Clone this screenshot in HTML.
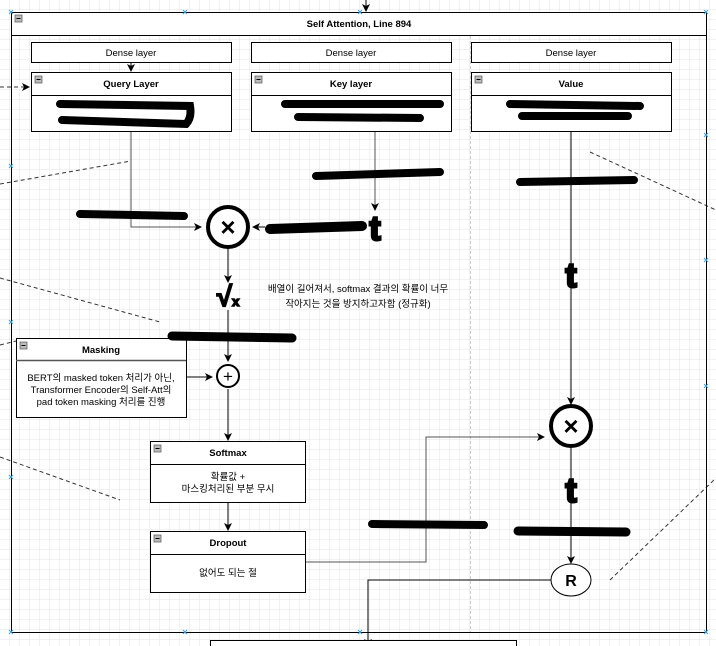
<!DOCTYPE html>
<html><head><meta charset="utf-8"><style>
body{margin:0;background:#fff}
svg{display:block}
text{font-family:"Liberation Sans","Noto Sans CJK KR",sans-serif;font-size:9.5px;fill:#000}
.b{font-weight:bold}
</style></head><body>
<svg width="716" height="646" viewBox="0 0 716 646" xmlns="http://www.w3.org/2000/svg">
<defs>
<pattern id="g" width="10" height="10" patternUnits="userSpaceOnUse"><path d="M10 0V10H0" fill="none" stroke="#e4e4e4" stroke-width="1"/></pattern>
<marker id="a" markerWidth="8" markerHeight="8" refX="7" refY="4" orient="auto" markerUnits="userSpaceOnUse"><path d="M0 0L8 4L0 8L2 4z" fill="#000"/></marker>
</defs>
<rect width="716" height="646" fill="url(#g)"/>
<g stroke="#333" stroke-dasharray="4,3" fill="none">
<line x1="0" y1="87" x2="29" y2="87" marker-end="url(#a)"/>
<line x1="0" y1="184" x2="131" y2="161"/>
<line x1="0" y1="278" x2="160" y2="322"/>
<line x1="0" y1="345" x2="16" y2="341"/>
<line x1="0" y1="457" x2="120" y2="500"/>
<line x1="590" y1="152" x2="716" y2="210"/>
<line x1="610" y1="580" x2="716" y2="478"/>
</g>
<rect x="11.5" y="12.5" width="695" height="620" fill="none" stroke="#000"/>
<rect x="11.5" y="12.5" width="695" height="23" fill="#fff" stroke="#000"/>
<rect x="15" y="15" width="7" height="7" fill="#bbb" stroke="#555" stroke-width=".7"/><line x1="16.5" y1="18.5" x2="20.5" y2="18.5" stroke="#000"/>
<text x="359" y="27" text-anchor="middle" class="b">Self Attention, Line 894</text>
<line x1="470.5" y1="36" x2="470.5" y2="632" stroke="#ccc" stroke-dasharray="3,2"/>
<line x1="366" y1="0" x2="366" y2="11" stroke="#000" marker-end="url(#a)"/>
<g fill="#fff" stroke="#000">
<rect x="31.5" y="42.5" width="200" height="20"/><rect x="251.5" y="42.5" width="200" height="20"/><rect x="471.5" y="42.5" width="200" height="20"/>
<rect x="31.5" y="72.5" width="200" height="59"/><rect x="251.5" y="72.5" width="200" height="59"/><rect x="471.5" y="72.5" width="200" height="59"/>
<line x1="31" y1="95.5" x2="231" y2="95.5"/><line x1="251" y1="95.5" x2="451" y2="95.5"/><line x1="471" y1="95.5" x2="671" y2="95.5"/>
</g>
<text x="131" y="56" text-anchor="middle">Dense layer</text>
<text x="351" y="56" text-anchor="middle">Dense layer</text>
<text x="571" y="56" text-anchor="middle">Dense layer</text>
<line x1="131" y1="62" x2="131" y2="71" stroke="#000" marker-end="url(#a)"/>
<g fill="#bbb" stroke="#555" stroke-width=".7"><rect x="35" y="76" width="7" height="7"/><rect x="255" y="76" width="7" height="7"/><rect x="475" y="76" width="7" height="7"/></g>
<g stroke="#000"><line x1="36.5" y1="79.5" x2="40.5" y2="79.5"/><line x1="256.5" y1="79.5" x2="260.5" y2="79.5"/><line x1="476.5" y1="79.5" x2="480.5" y2="79.5"/></g>
<text x="131" y="87" text-anchor="middle" class="b">Query Layer</text>
<text x="351" y="87" text-anchor="middle" class="b">Key layer</text>
<text x="571" y="87" text-anchor="middle" class="b">Value</text>
<g stroke="#000" fill="none">
<polyline points="131,132 131,227 201,227" stroke="#555" marker-end="url(#a)"/>
<line x1="375" y1="132" x2="375" y2="210" stroke="#555" marker-end="url(#a)"/>
<line x1="265" y1="227" x2="253" y2="227" marker-end="url(#a)"/>
<line x1="228" y1="248" x2="228" y2="282" marker-end="url(#a)"/>
<line x1="228" y1="310" x2="228" y2="361" marker-end="url(#a)"/>
<line x1="187" y1="377" x2="212" y2="377" marker-end="url(#a)"/>
<line x1="228" y1="389" x2="228" y2="440" marker-end="url(#a)"/>
<line x1="228" y1="502" x2="228" y2="530" marker-end="url(#a)"/>
<polyline points="305,562 426,562 426,437 544,437" stroke="#555" marker-end="url(#a)"/>
<line x1="571" y1="132" x2="571" y2="404" marker-end="url(#a)"/>
<line x1="571" y1="448" x2="571" y2="563" marker-end="url(#a)"/>
<polyline points="551,580 368,580 368,646" marker-end="url(#a)"/>
</g>
<circle cx="228" cy="227" r="20" fill="#fff" stroke="#000" stroke-width="4"/>
<text x="228" y="236" text-anchor="middle" class="b" style="font-size:26px">×</text>
<circle cx="571" cy="426" r="20" fill="#fff" stroke="#000" stroke-width="4"/>
<text x="571" y="435" text-anchor="middle" class="b" style="font-size:26px">×</text>
<circle cx="228" cy="376" r="11" fill="#fff" stroke="#000" stroke-width="2"/>
<text x="228" y="382" text-anchor="middle" style="font-size:17px">+</text>
<ellipse cx="571" cy="580" rx="20" ry="16" fill="#fff" stroke="#000"/>
<text x="571" y="586" text-anchor="middle" class="b" style="font-size:16px">R</text>
<text x="228" y="306" text-anchor="middle" class="b" style="font-size:28px;stroke:#000;stroke-width:1.5">√<tspan style="font-size:13px">x</tspan></text>
<g class="b" style="font-size:34px;stroke:#000;stroke-width:2.5" text-anchor="middle">
<text x="375" y="240" text-anchor="middle" class="b" style="font-size:34px;stroke:#000;stroke-width:2.5">t</text>
<text x="571" y="287" text-anchor="middle" class="b" style="font-size:34px;stroke:#000;stroke-width:2.5">t</text>
<text x="571" y="502" text-anchor="middle" class="b" style="font-size:34px;stroke:#000;stroke-width:2.5">t</text>
</g>
<text x="358" y="292" text-anchor="middle">배열이 길어져서, softmax 결과의 확률이 너무</text>
<text x="358" y="307" text-anchor="middle">작아지는 것을 방지하고자함 (정규화)</text>
<rect x="16.5" y="338.5" width="170" height="79" fill="#fff" stroke="#000"/>
<line x1="16" y1="360.5" x2="186" y2="360.5" stroke="#555" stroke-width="1.5"/>
<rect x="20" y="342" width="7" height="7" fill="#bbb" stroke="#555" stroke-width=".7"/><line x1="21.5" y1="345.5" x2="25.5" y2="345.5" stroke="#000"/>
<text x="101" y="353" text-anchor="middle" class="b">Masking</text>
<text x="101" y="381" text-anchor="middle">BERT의 masked token 처리가 아닌,</text>
<text x="101" y="393" text-anchor="middle">Transformer Encoder의 Self-Att의</text>
<text x="101" y="405" text-anchor="middle">pad token masking 처리를 진행</text>
<g fill="#fff" stroke="#000"><rect x="150.5" y="441.5" width="155" height="61"/><rect x="150.5" y="531.5" width="155" height="61"/></g>
<line x1="150" y1="464.5" x2="305" y2="464.5" stroke="#000"/><line x1="150" y1="554.5" x2="305" y2="554.5" stroke="#000"/>
<g fill="#bbb" stroke="#555" stroke-width=".7"><rect x="154" y="445" width="7" height="7"/><rect x="154" y="535" width="7" height="7"/></g>
<g stroke="#000"><line x1="155.5" y1="448.5" x2="159.5" y2="448.5"/><line x1="155.5" y1="538.5" x2="159.5" y2="538.5"/></g>
<text x="228" y="456" text-anchor="middle" class="b">Softmax</text>
<text x="228" y="480" text-anchor="middle">확률값 +</text>
<text x="228" y="492" text-anchor="middle">마스킹처리된 부분 무시</text>
<text x="228" y="546" text-anchor="middle" class="b">Dropout</text>
<text x="228" y="576" text-anchor="middle">없어도 되는 절</text>
<rect x="210.5" y="640.5" width="306" height="10" fill="#fff" stroke="#000"/>
<g stroke="#000" stroke-linecap="round" fill="none" stroke-width="8">
<path d="M60 104 L190 106 Q192 118 186 124 L62 120"/>
<path d="M285 104 L440 104 M298 117 L420 118"/>
<path d="M510 104 L640 106 M522 116 L628 116"/>
<path d="M316 176 L440 172"/>
<path d="M520 182 L634 180"/>
<path d="M80 214 L184 216"/>
<path d="M270 229 L362 226" stroke-width="10"/>
<path d="M172 336 L292 338" stroke-width="9"/>
<path d="M372 524 L484 525"/>
<path d="M518 531 L626 532" stroke-width="9"/>
</g>
<g stroke="#3aa0e0" stroke-width="1">
<path d="M9 10l4 4M13 10l-4 4M183 10l4 4M187 10l-4 4M358 10l4 4M362 10l-4 4M704 10l4 4M708 10l-4 4M9 164l4 4M13 164l-4 4M704 133l4 4M708 133l-4 4M704 258l4 4M708 258l-4 4M9 320l4 4M13 320l-4 4M704 384l4 4M708 384l-4 4M9 475l4 4M13 475l-4 4M9 630l4 4M13 630l-4 4M183 630l4 4M187 630l-4 4M358 630l4 4M362 630l-4 4M704 630l4 4M708 630l-4 4"/>
</g>
</svg>
</body></html>
